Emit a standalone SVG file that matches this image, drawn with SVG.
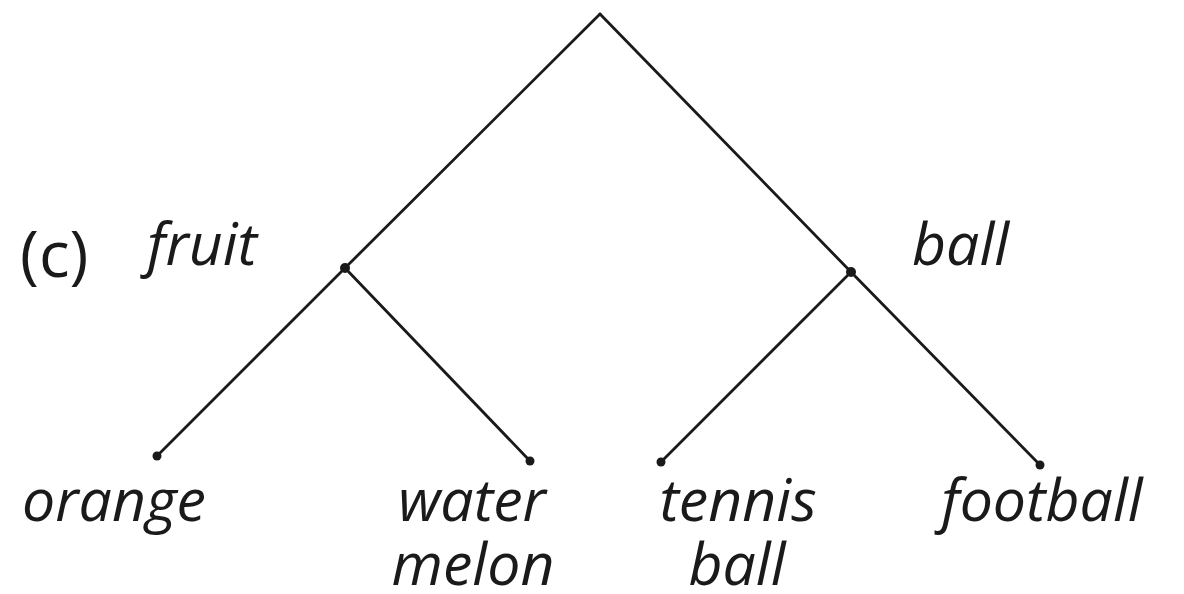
<svg xmlns="http://www.w3.org/2000/svg" width="1184" height="594" viewBox="0 0 1184 594">
<style>
.e{stroke:#1a1a1a;stroke-width:2.8;fill:none;stroke-linecap:round}
.d{fill:#1a1a1a}
.t{font-family:"Open Sans","Noto Sans",sans-serif;font-style:italic;font-size:59px;fill:#1a1a1a}
.c{font-family:"Open Sans","Noto Sans",sans-serif;font-size:64px;fill:#1a1a1a}
</style>
<rect width="1184" height="594" fill="#fff"/>
<g id="connectors">
<line class="e" x1="600" y1="14" x2="345" y2="268"/>
<line class="e" x1="600" y1="14" x2="851" y2="272"/>
<line class="e" x1="345" y1="268" x2="157" y2="456"/>
<line class="e" x1="345" y1="268" x2="530" y2="461"/>
<line class="e" x1="851" y1="272" x2="661" y2="462"/>
<line class="e" x1="851" y1="272" x2="1040" y2="465"/>
</g>
<g id="label-c"><text class="c" x="20" y="277">(c)</text></g>
<g id="fruit"><circle class="d" cx="345" cy="268" r="5"/><text class="t" x="147" y="265">fruit</text></g>
<g id="ball"><circle class="d" cx="851" cy="272" r="5"/><text class="t" x="912" y="265">ball</text></g>
<g id="orange"><circle class="d" cx="157" cy="456" r="4.5"/><text class="t" x="22" y="521">orange</text></g>
<g id="watermelon"><circle class="d" cx="530" cy="461" r="4.5"/><text class="t" x="472" y="521" text-anchor="middle">water</text><text class="t" x="473" y="585" text-anchor="middle">melon</text></g>
<g id="tennisball"><circle class="d" cx="661" cy="462" r="4.5"/><text class="t" x="738" y="521" text-anchor="middle">tennis</text><text class="t" x="737" y="585" text-anchor="middle">ball</text></g>
<g id="football"><circle class="d" cx="1040" cy="465" r="4.5"/><text class="t" x="1042" y="521" text-anchor="middle">football</text></g>
</svg>
